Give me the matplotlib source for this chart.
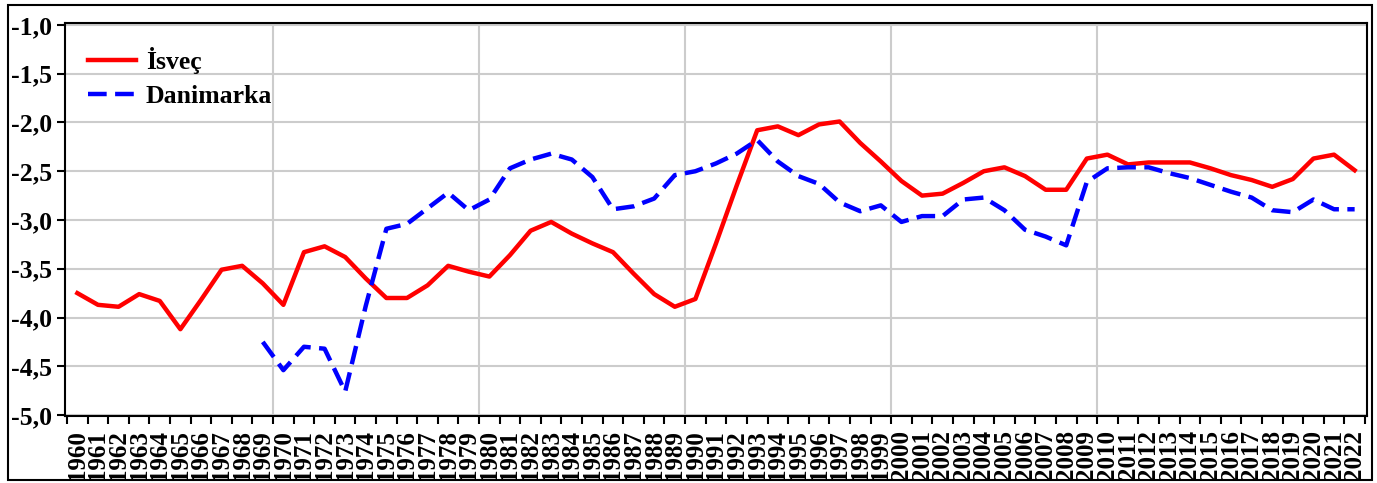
import numpy as np
import matplotlib
matplotlib.use('Agg')
from matplotlib import pyplot as plt
from matplotlib.patches import Rectangle
from matplotlib.ticker import FuncFormatter, FixedLocator

plt.rcParams['font.family'] = ['Liberation Serif', 'DejaVu Serif']
plt.rcParams['font.weight'] = 'bold'

# yearly values
years = list(range(1960, 2023))
isvec = [-3.75, -3.87, -3.89, -3.76, -3.83, -4.12, -3.82, -3.51, -3.47, -3.65,
         -3.87, -3.33, -3.27, -3.38, -3.60, -3.80, -3.80, -3.67, -3.47, -3.53,
         -3.58, -3.36, -3.11, -3.02, -3.14, -3.24, -3.33, -3.55, -3.76, -3.89,
         -3.81, -3.24, -2.65, -2.08, -2.04, -2.13, -2.02, -1.99, -2.21, -2.40,
         -2.60, -2.75, -2.73, -2.62, -2.50, -2.46, -2.55, -2.69, -2.69, -2.37,
         -2.33, -2.43, -2.41, -2.41, -2.41, -2.47, -2.54, -2.59, -2.66, -2.58,
         -2.37, -2.33, -2.49]
dan_years = list(range(1969, 2023))
danimarka = [-4.25,
             -4.54, -4.30, -4.32, -4.76, -3.88, -3.09, -3.04, -2.88, -2.72, -2.90,
             -2.79, -2.47, -2.38, -2.32, -2.38, -2.56, -2.89, -2.86, -2.78, -2.54,
             -2.50, -2.42, -2.32, -2.18, -2.40, -2.55, -2.63, -2.82, -2.91, -2.85,
             -3.02, -2.96, -2.96, -2.79, -2.77, -2.90, -3.10, -3.17, -3.26, -2.61,
             -2.47, -2.46, -2.46, -2.52, -2.57, -2.64, -2.71, -2.77, -2.90, -2.92,
             -2.79, -2.89, -2.89]
yticks = [-5.0, -4.5, -4.0, -3.5, -3.0, -2.5, -2.0, -1.5, -1.0]

fig = plt.figure(figsize=(13.77, 4.83), dpi=100)
ax = fig.add_axes([65 / 1377, 67 / 483, 1302 / 1377, 393 / 483])

# outer frame round the whole picture
fig.patches.append(Rectangle((8 / 1377, 3 / 483), 1364 / 1377, 475 / 483,
                             transform=fig.transFigure, fill=False,
                             edgecolor='black', linewidth=1.5))

ax.plot(years, isvec, color='#ff0000', linewidth=3.2, label='İsveç')
ax.plot(dan_years, danimarka, color='#0000ff', linewidth=3.2,
        dashes=(4.2, 1.9), dash_capstyle='butt', label='Danimarka')

ax.set_xlim(1959.4, 2022.6)
ax.set_ylim(-5.01, -0.98)

# grid
for y in yticks:
    ax.axhline(y, color='#cccccc', linewidth=1.5, zorder=0)
for x in [1969.5, 1979.5, 1989.5, 1999.5, 2009.5]:
    ax.axvline(x, color='#cccccc', linewidth=1.5, zorder=0)

ax.set_yticks(yticks)
ax.yaxis.set_major_formatter(FuncFormatter(lambda v, p: ('%.1f' % v).replace('.', ',')))
ax.tick_params(axis='y', direction='out', length=6, width=1.5, pad=3.5,
               labelsize=18.5)

ax.xaxis.set_major_locator(FixedLocator(years))
ax.set_xticklabels([str(y) for y in years], rotation=90, fontsize=18)
ax.xaxis.set_minor_locator(FixedLocator([y - 0.5 for y in years] + [2022.5]))
ax.tick_params(axis='x', which='major', length=0, pad=10)
ax.tick_params(axis='x', which='minor', direction='out', length=6, width=1.5)

for s in ax.spines.values():
    s.set_linewidth(1.5)

ax.legend(loc='upper left', bbox_to_anchor=(0.0177, 0.94), frameon=False,
          fontsize=18.5, handlelength=1.85, handletextpad=0.4,
          labelspacing=0.45, borderpad=0, borderaxespad=0)

plt.savefig('out.png', dpi=100)
